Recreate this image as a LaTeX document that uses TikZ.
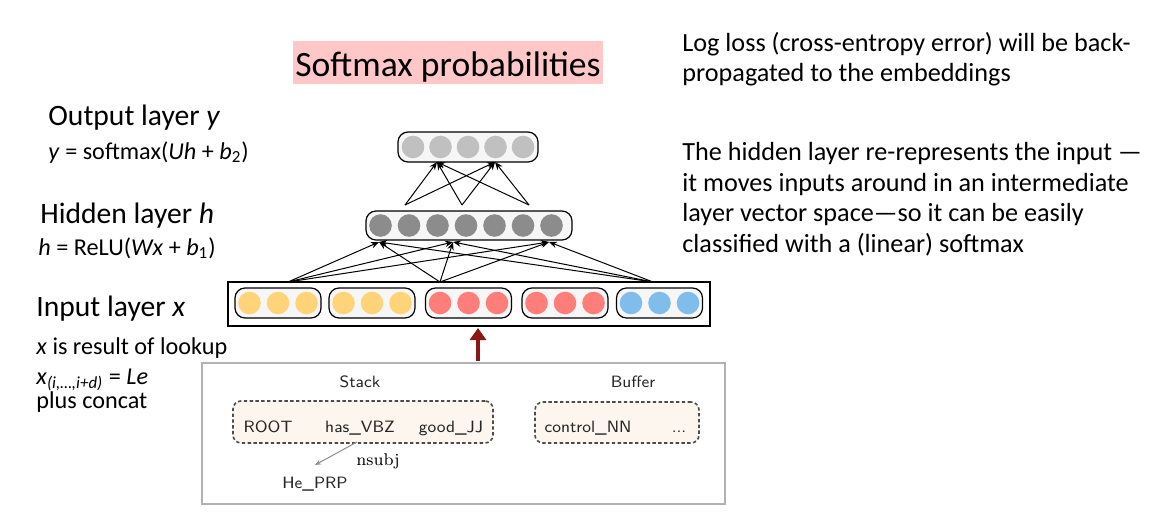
\documentclass[tikz,border=0pt]{standalone}
\usepackage{fontspec}
\setmainfont{Carlito}
\newfontfamily\lmroman{Latin Modern Roman}
\usetikzlibrary{arrows.meta,positioning}
\definecolor{outgray}{RGB}{192,192,192}
\definecolor{hidgray}{RGB}{140,140,140}
\definecolor{inyellow}{RGB}{255,212,121}
\definecolor{inred}{RGB}{255,126,121}
\definecolor{inblue}{RGB}{128,189,235}
\definecolor{titlepink}{RGB}{255,199,199}
\definecolor{lookupred}{RGB}{140,22,22}
\definecolor{configfill}{RGB}{253,246,239}
\tikzset{
layerbox/.style={draw=black,fill=gray!7,rounded corners=5pt,line width=0.6pt,inner sep=0pt},
unit/.style={circle,fill=#1,inner sep=0pt,minimum size=11.3pt},
tap/.style={inner sep=0pt,outer sep=0pt,minimum size=0pt},
arr/.style={->,>={Stealth[length=4pt,width=3.2pt]},line width=0.5pt},
lbl/.style={anchor=base west,inner sep=0pt,font=\fontsize{14.8}{17}\selectfont},
formula/.style={anchor=base west,inner sep=0pt,font=\fontsize{12.1}{14}\selectfont},
note/.style={anchor=base west,inner sep=0pt,align=left,font=\fontsize{13.1}{15.2}\selectfont},
configbox/.style={draw=black!70,dash pattern=on 1.7pt off 1.2pt,line width=0.8pt,fill=configfill,rounded corners=4pt,inner sep=0pt},
parser/.style={font=\sffamily\fontsize{8.2}{9}\selectfont,anchor=base,inner sep=0pt,text=black!85},
}
\tikzstyle{every node}=[font=\fontsize{12}{14}\selectfont]

\begin{document}
\begin{tikzpicture}[x=0.5pt,y=-0.5pt]
    \useasboundingbox (0,0) rectangle (1159,519);

    % title and notes (multi-line notes sit on their last baseline)
    \node[fill=titlepink,inner xsep=0pt,inner ysep=0pt,minimum width=155pt,
        text height=17.5pt,text depth=4pt,anchor=base,
        font=\fontsize{17.8}{20}\selectfont] (title) at (448,76) {Softmax probabilities};
    \node[note] (lossnote) at (682,82) {Log loss (cross-entropy error) will be back-\\propagated to the embeddings};
    \node[note] (hiddennote) at (682,252) {The hidden layer re-represents the input \textemdash\\it moves inputs around in an intermediate\\layer vector space\textemdash so it can be easily\\classified with a (linear) softmax};

    % layer labels
    \node[lbl] (outlbl) at (48,125) {Output layer \textit{y}};
    \node[formula] (outeq) at (48,159) {\textit{y} = softmax(\textit{Uh} + \textit{b}\textsubscript{2})};
    \node[lbl] (hidlbl) at (40,223) {Hidden layer \textit{h}};
    \node[formula] (hideq) at (38,255) {\textit{h} = ReLU(\textit{Wx} + \textit{b}\textsubscript{1})};
    \node[lbl] (inlbl) at (36,316) {Input layer \textit{x}};
    \node[formula] (lookup) at (36,354) {\textit{x} is result of lookup};
    \node[formula] (lookupeq) at (36,384) {\textit{x}\textsubscript{\textit{(i,\dots,i+d)}} = \textit{Le}};
    \node[formula] (concat) at (36,408) {plus concat};

    % output layer
    \node[layerbox,minimum width=70pt,minimum height=15pt] (outlayer) at (468,147) {};
    \foreach \i in {0,...,4}
        \node[unit=outgray] (o\i) at (413+27.5*\i,147) {};

    % hidden layer
    \node[layerbox,minimum width=103pt,minimum height=14.5pt] (hidlayer) at (469,225.5) {};
    \foreach \i in {0,...,6}
        \node[unit=hidgray] (h\i) at (380.5+28.5*\i,225.5) {};

    % input layer
    \node[draw=black,fill=white,line width=0.6pt,minimum width=241pt,minimum height=22pt,inner sep=0pt] (inlayer) at (469,304) {};
    \foreach \g/\gx/\col in {1/278/inyellow,2/372/inyellow,3/468.5/inred,4/565/inred,5/659.5/inblue}{
        \node[layerbox,minimum width=43pt,minimum height=15pt] (grp\g) at (\gx,303) {};
        \foreach \k in {-1,0,1}
            \node[unit=\col] at (\gx+28.5*\k,303) {};
    }

    % taps for the connections
    \node[tap] (ia) at (288,282) {};
    \node[tap] (ib) at (440,282) {};
    \node[tap] (ic) at (653,282) {};
    \node[tap] (hina) at (379,242) {};
    \node[tap] (hinb) at (453,242) {};
    \node[tap] (hinc) at (549,242) {};
    \node[tap] (houta) at (405,205) {};
    \node[tap] (houtb) at (462,205) {};
    \node[tap] (houtc) at (529,205) {};
    \node[tap] (oina) at (437,162) {};
    \node[tap] (oinb) at (495,162) {};

    \foreach \s in {ia,ib,ic}
        \foreach \t in {hina,hinb,hinc}
            \draw[arr] (\s) -- (\t);
    \foreach \s in {houta,houtb,houtc}
        \foreach \t in {oina,oinb}
            \draw[arr] (\s) -- (\t);

    % lookup arrow
    \node[tap] (lookfoot) at (478,361) {};
    \node[tap] (lookhead) at (478,328) {};
    \draw[lookupred,line width=2pt,-{Triangle[length=6pt,width=8pt]}] (lookfoot) -- (lookhead);

    % parser configuration
    \node[draw=black!30,line width=0.6pt,minimum width=261.5pt,minimum height=70.5pt,inner sep=0pt] (config) at (463.5,433.5) {};
    \node[parser] (stacklbl) at (360,387) {Stack};
    \node[parser] (bufferlbl) at (633,387) {Buffer};
    \node[configbox,minimum width=130pt,minimum height=21pt] (stack) at (363,422) {};
    \node[configbox,minimum width=82pt,minimum height=20.5pt] (buffer) at (617,422.5) {};
    \node[parser] (root) at (268,432) {ROOT};
    \node[parser] (has) at (360,432) {has\_VBZ};
    \node[parser] (good) at (451,432) {good\_JJ};
    \node[parser] (control) at (588,432) {control\_NN};
    \node[parser] (dots) at (679,432) {...};
    \node[parser] (he) at (315,488) {He\_PRP};
    \node[tap] (arcfoot) at (357,442) {};
    \node[tap] (archead) at (315,465) {};
    \draw[black!45,line width=0.5pt,-{Stealth[length=3pt,width=2.4pt]}] (arcfoot) -- (archead);
    \node[anchor=base,inner sep=0pt,font=\lmroman\fontsize{8.5}{10}\selectfont] (nsubj) at (378,465) {nsubj};
\end{tikzpicture}
\end{document}
